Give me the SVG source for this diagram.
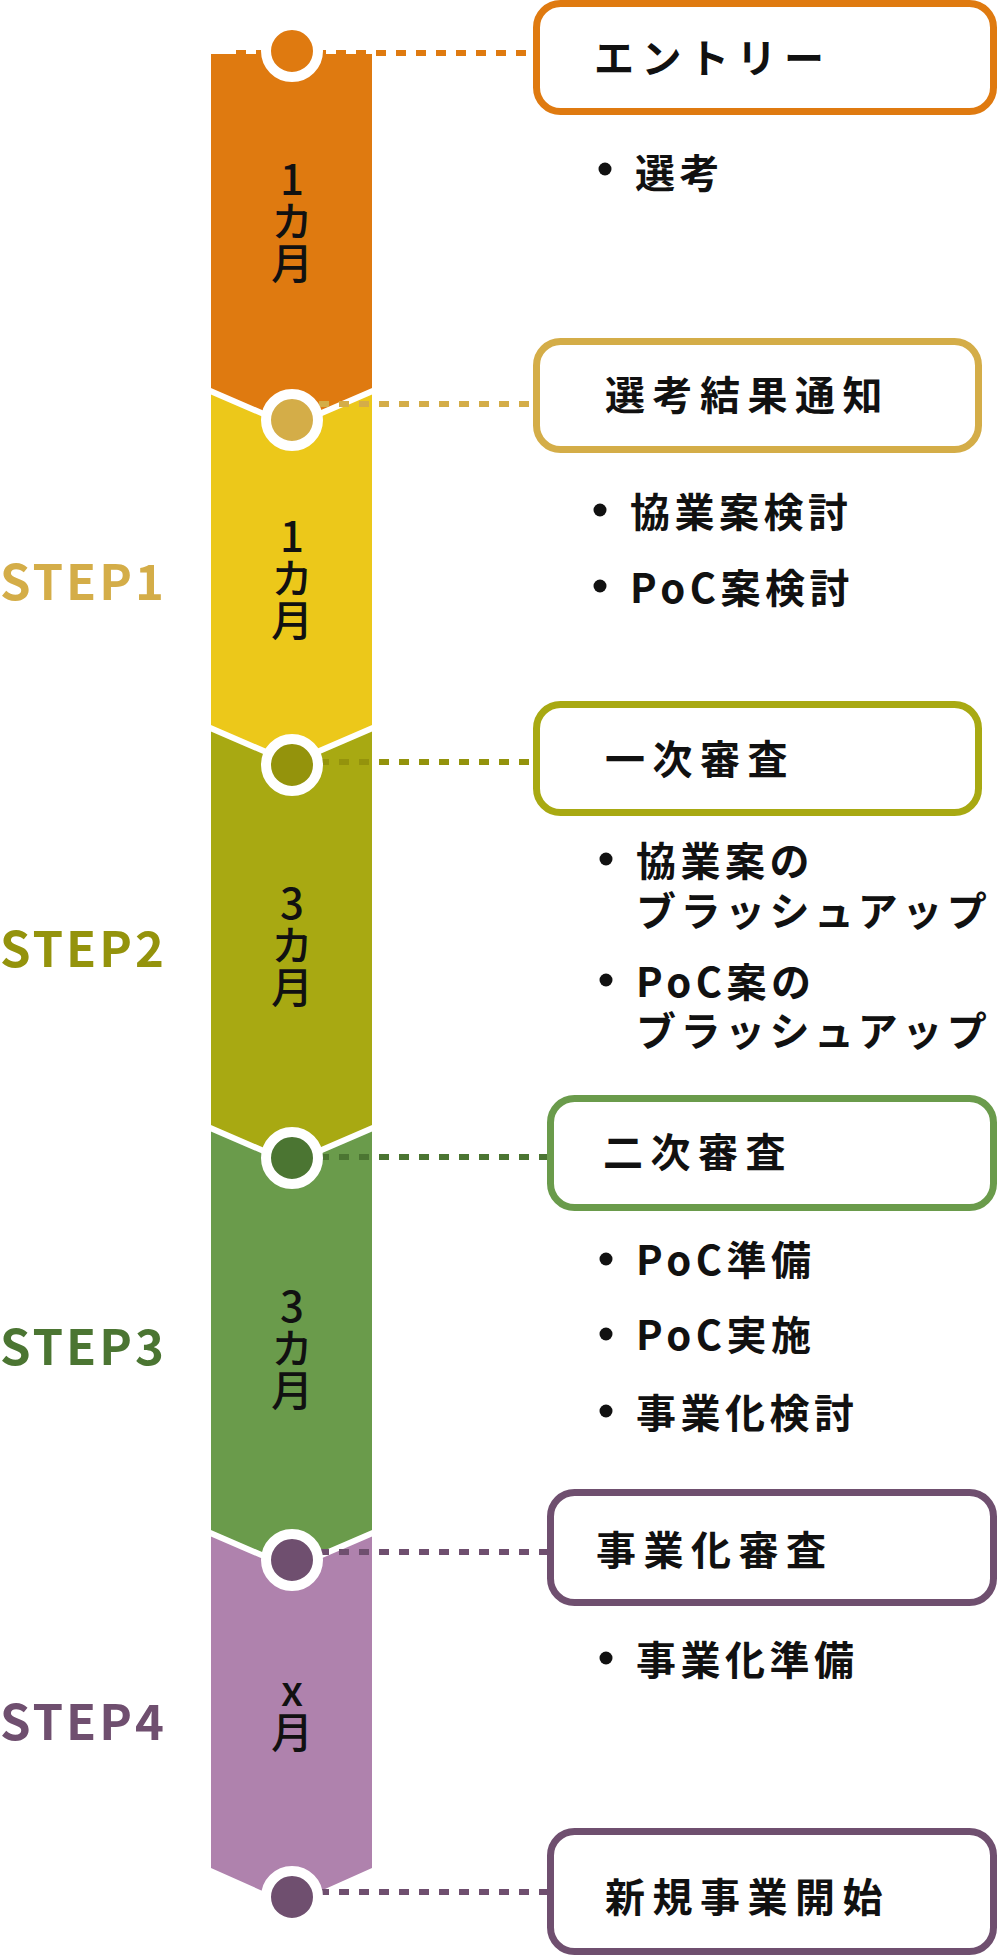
<svg xmlns="http://www.w3.org/2000/svg" width="998" height="1956" viewBox="0 0 998 1956">
<style>
text{font-family:"Noto Sans CJK JP","Noto Sans",sans-serif;fill:#111}
.title{font-size:40px;font-weight:700;letter-spacing:7.5px}
.item{font-size:40px;font-weight:700;letter-spacing:4.5px}
.step{font-size:49px;font-weight:700;letter-spacing:3px}
.mon{font-size:42px;font-weight:500;text-anchor:middle;writing-mode:vertical-rl;text-orientation:upright}
.box{fill:#fff;stroke-width:7}
.sep{fill:none;stroke:#fff;stroke-width:6}
.node{stroke:#fff;stroke-width:10}
.dot{fill:#111}
.conn{fill:none;stroke-width:6;stroke-dasharray:10 10}
</style>
<g id="bar">
<polygon points="211,54 372,54 372,390 291.5,426 211,390" fill="#DF7A10"/>
<polygon points="211,390 291.5,426 372,390 372,727 291.5,763 211,727" fill="#ECC81A"/>
<polygon points="211,727 291.5,763 372,727 372,1127 291.5,1163 211,1127" fill="#A8A912"/>
<polygon points="211,1127 291.5,1163 372,1127 372,1532 291.5,1568 211,1532" fill="#6A9B4B"/>
<polygon points="211,1532 291.5,1568 372,1532 372,1868 291.5,1904 211,1868" fill="#AF82AD"/>
<polyline class="sep" points="208,390 291.5,426 375,390"/>
<polyline class="sep" points="208,727 291.5,763 375,727"/>
<polyline class="sep" points="208,1127 291.5,1163 375,1127"/>
<polyline class="sep" points="208,1532 291.5,1568 375,1532"/>
</g>
<g id="connectors">
<line class="conn" x1="236" y1="53" x2="533" y2="53" stroke="#DF7A10"/>
<line class="conn" x1="279" y1="404" x2="533" y2="404" stroke="#D4AD48"/>
<line class="conn" x1="279" y1="762" x2="533" y2="762" stroke="#94930C"/>
<line class="conn" x1="279" y1="1157" x2="547" y2="1157" stroke="#4B7532"/>
<line class="conn" x1="279" y1="1552" x2="547" y2="1552" stroke="#6F4F6F"/>
<line class="conn" x1="279" y1="1892" x2="547" y2="1892" stroke="#6F4F6F"/>
</g>
<g id="milestones">
<circle class="node" cx="292" cy="51" r="26" fill="#DF7A10"/>
<circle class="node" cx="292" cy="420" r="26" fill="#D4AD48"/>
<circle class="node" cx="292" cy="765" r="26" fill="#94930C"/>
<circle class="node" cx="292" cy="1158" r="26" fill="#4B7532"/>
<circle class="node" cx="292" cy="1560" r="26" fill="#6F4F6F"/>
<circle class="node" cx="292" cy="1897" r="26" fill="#6F4F6F"/>
</g>
<g id="durations">
<text class="mon" x="292" y="221">1カ月</text>
<text class="mon" x="292" y="578">1カ月</text>
<text class="mon" x="292" y="945">3カ月</text>
<text class="mon" x="292" y="1348">3カ月</text>
<text class="mon" x="292" y="1711">x月</text>
</g>
<g id="steps">
<text class="step" x="0" y="600" style="fill:#D4AD48">STEP1</text>
<text class="step" x="0" y="967" style="fill:#94930C">STEP2</text>
<text class="step" x="0" y="1365" style="fill:#4B7532">STEP3</text>
<text class="step" x="0" y="1740" style="fill:#6F4F6F">STEP4</text>
</g>
<g id="entry">
<rect class="box" x="536.5" y="3.5" width="457" height="108" rx="24" stroke="#DF7A10"/>
<text class="title" x="594" y="73">エントリー</text>
</g>
<g id="entry-items">
<circle class="dot" cx="605" cy="169" r="6.5"/>
<text class="item" x="635" y="188">選考</text>
</g>
<g id="result">
<rect class="box" x="536.5" y="341.5" width="442" height="108" rx="24" stroke="#D4AD48"/>
<text class="title" x="605" y="410">選考結果通知</text>
</g>
<g id="result-items">
<circle class="dot" cx="600" cy="510" r="6.5"/>
<text class="item" x="630" y="527">協業案検討</text>
<circle class="dot" cx="600" cy="586" r="6.5"/>
<text class="item" x="630" y="603">PoC案検討</text>
</g>
<g id="review1">
<rect class="box" x="536.5" y="704.5" width="442" height="108" rx="24" stroke="#A8A912"/>
<text class="title" x="605" y="774">一次審査</text>
</g>
<g id="review1-items">
<circle class="dot" cx="606" cy="859" r="6.5"/>
<text class="item" x="636" y="876">協業案の</text>
<text class="item" x="636" y="926">ブラッシュアップ</text>
<circle class="dot" cx="606" cy="980" r="6.5"/>
<text class="item" x="636" y="997">PoC案の</text>
<text class="item" x="636" y="1046">ブラッシュアップ</text>
</g>
<g id="review2">
<rect class="box" x="550.5" y="1098.5" width="443" height="109" rx="24" stroke="#6A9B4B"/>
<text class="title" x="603" y="1167">二次審査</text>
</g>
<g id="review2-items">
<circle class="dot" cx="606" cy="1259" r="6.5"/>
<text class="item" x="636" y="1275">PoC準備</text>
<circle class="dot" cx="606" cy="1334" r="6.5"/>
<text class="item" x="636" y="1350">PoC実施</text>
<circle class="dot" cx="606" cy="1411" r="6.5"/>
<text class="item" x="636" y="1428">事業化検討</text>
</g>
<g id="bizreview">
<rect class="box" x="550.5" y="1492.5" width="443" height="110" rx="24" stroke="#6F4F6F"/>
<text class="title" x="596" y="1565">事業化審査</text>
</g>
<g id="bizreview-items">
<circle class="dot" cx="606" cy="1658" r="6.5"/>
<text class="item" x="636" y="1675">事業化準備</text>
</g>
<g id="launch">
<rect class="box" x="550.5" y="1831.5" width="443" height="120" rx="24" stroke="#6F4F6F"/>
<text class="title" x="605" y="1912">新規事業開始</text>
</g>
</svg>
